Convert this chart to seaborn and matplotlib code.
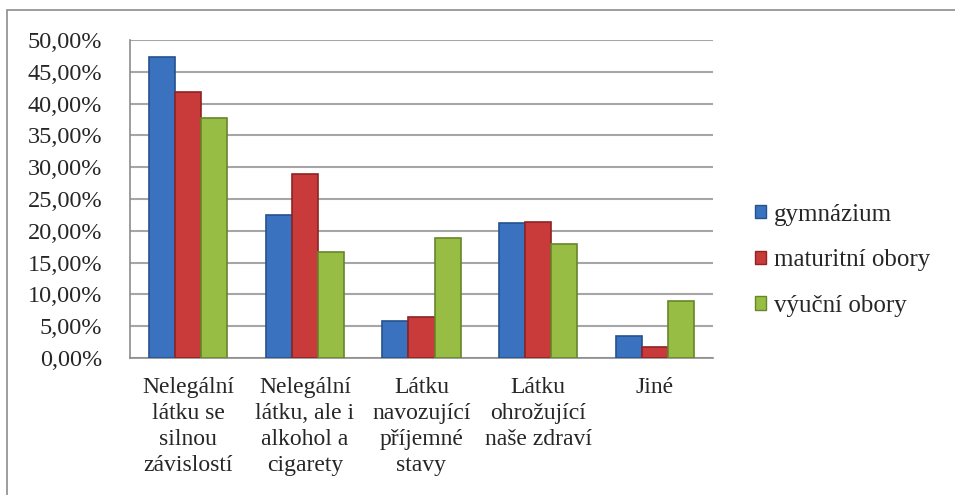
import matplotlib
matplotlib.use("Agg")
import matplotlib.pyplot as plt
import matplotlib.patches as mpatches
from matplotlib.ticker import FuncFormatter
import seaborn as sns
import pandas as pd

# data (percent)
categories = [
    "Nelegální\nlátku se\nsilnou\nzávislostí",
    "Nelegální\nlátku, ale i\nalkohol a\ncigarety",
    "Látku\nnavozující\npříjemné\nstavy",
    "Látku\nohrožující\nnaše zdraví",
    "Jiné",
]
groups = ["gymnázium", "maturitní obory", "výuční obory"]
gymnazium = [47.3, 22.5, 5.8, 21.2, 3.5]
maturitni = [41.9, 28.9, 6.4, 21.4, 1.8]
vyucni = [37.8, 16.7, 18.8, 17.9, 8.9]
colors = ["#3A72BF", "#C93B3A", "#98BD45"]
edges = ["#24528F", "#8E2423", "#67862A"]

df = pd.DataFrame({
    "kategorie": categories * 3,
    "skupina": [g for g in groups for _ in categories],
    "hodnota": gymnazium + maturitni + vyucni,
})

sns.set_style("white")
plt.rcParams["font.family"] = ["Liberation Serif", "DejaVu Serif"]

fig = plt.figure(figsize=(9.55, 4.95), dpi=100)
ax = fig.add_axes([0.1361, 0.2768, 0.6105, 0.6424])

sns.barplot(data=df, x="kategorie", y="hodnota", hue="skupina",
            palette=colors, width=0.67, saturation=1, ax=ax,
            linewidth=1.2, edgecolor="#333333", legend=False, zorder=3)

# darker outline per series
for i, cont in enumerate(ax.containers):
    for bar in cont:
        bar.set_edgecolor(edges[i])

ax.set_ylim(0, 50)
ax.set_yticks(range(0, 51, 5))
ax.yaxis.set_major_formatter(FuncFormatter(lambda v, p: f"{v:.2f}".replace(".", ",") + "%"))
ax.set_xlim(-0.5, len(categories) - 0.5)
ax.grid(axis="y", color="#A6A6A6", linewidth=1.5, zorder=0)
ax.set_axisbelow(True)
ax.set_xlabel("")
ax.set_ylabel("")

for side in ["top", "right"]:
    ax.spines[side].set_visible(False)
for side in ["left", "bottom"]:
    ax.spines[side].set_color("#8C8C8C")
    ax.spines[side].set_linewidth(1.2)

ax.tick_params(axis="y", length=3, width=1.2, color="#8C8C8C", labelsize=17.5, pad=17)
ax.tick_params(axis="x", length=0, labelsize=17, pad=14)
for lbl in ax.get_xticklabels():
    lbl.set_linespacing(1.31)
    lbl.set_verticalalignment("top")

handles = [mpatches.Patch(facecolor=c, edgecolor=e, label=g)
           for c, e, g in zip(colors, edges, groups)]
fig.legend(handles=handles, loc="center left", bbox_to_anchor=(0.767, 0.474),
           frameon=False, fontsize=18, handlelength=0.45, handleheight=0.45,
           handletextpad=0.3, labelspacing=0.95)

# outer chart border (right and bottom edges lie outside the image)
border = mpatches.Rectangle((0.0073, -0.2), 1.1, 1.18, transform=fig.transFigure,
                            fill=False, edgecolor="#8C8C8C", linewidth=1.2, clip_on=False)
fig.patches.append(border)

fig.savefig("out.png", dpi=100)
